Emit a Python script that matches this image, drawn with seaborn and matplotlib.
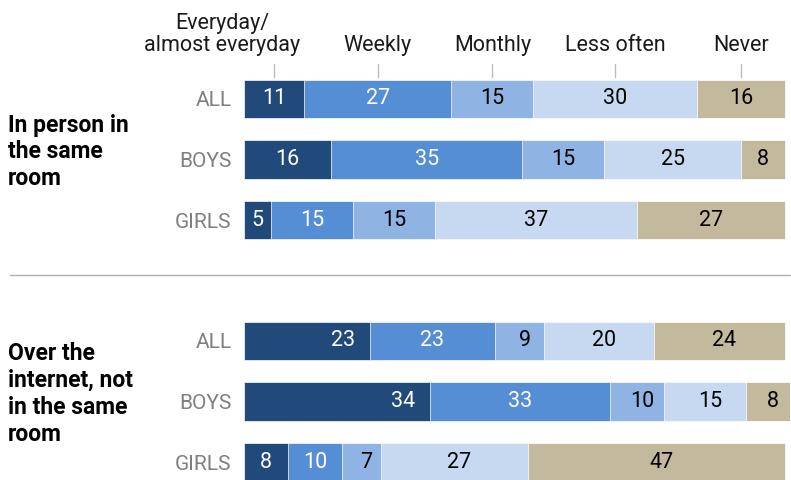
import pandas as pd
import numpy as np
import matplotlib.pyplot as plt
import seaborn as sns
from matplotlib.lines import Line2D

# data
categories = ['Everyday/\nalmost everyday', 'Weekly', 'Monthly', 'Less often', 'Never']
groups = ['ALL', 'BOYS', 'GIRLS']

inperson_all = [11, 27, 15, 30, 16]
inperson_boys = [16, 35, 15, 25, 8]
inperson_girls = [5, 15, 15, 37, 27]

online_all = [23, 23, 9, 20, 24]
online_boys = [34, 33, 10, 15, 8]
online_girls = [8, 10, 7, 27, 47]

panel_titles = ['In person in\nthe same\nroom', 'Over the\ninternet, not\nin the same\nroom']

colors = ['#214a7b', '#568ed5', '#8fb4e3', '#c6d9f0', '#c3b99c']
text_colors = ['white', 'white', 'black', 'black', 'black']

sns.set_theme(style='white')
plt.rcParams['font.family'] = ['Roboto', 'DejaVu Sans']


def make_long(rows):
    recs = []
    for g, vals in zip(groups, rows):
        cum = np.cumsum(vals)
        for i, c in enumerate(categories):
            recs.append({'group': g, 'cat': c, 'value': vals[i],
                         'cum': cum[i], 'start': cum[i] - vals[i]})
    return pd.DataFrame(recs)


panels = [make_long([inperson_all, inperson_boys, inperson_girls]),
          make_long([online_all, online_boys, online_girls])]

fig = plt.figure(figsize=(7.91, 4.80), dpi=100)

# axes placement (px -> fig)
W, H = 791, 480
left = 244 / W
width = 546 / W
row_px = 60.5
ax_h = 3.2 * row_px / H
ax_tops = [99 - 0.6 * row_px, 341 - 0.6 * row_px]

axes = []
for p, df in enumerate(panels):
    bottom = 1 - (ax_tops[p] + 3.2 * row_px) / H
    ax = fig.add_axes([left, bottom, width, ax_h])
    axes.append(ax)
    # stacked bars: draw cumulative totals from last to first
    for i in reversed(range(len(categories))):
        sub = df[df['cat'] == categories[i]]
        sns.barplot(data=sub, x='cum', y='group', order=groups, orient='h',
                    color=colors[i], width=0.63, edgecolor='white',
                    linewidth=0.5, saturation=1, ax=ax)
    # value labels
    for _, r in df.iterrows():
        gi = groups.index(r['group'])
        ci = categories.index(r['cat'])
        x = r['start'] + r['value'] / 2
        ha = 'center'
        if p == 1 and ci == 0 and r['value'] > 20:
            x = r['cum'] - 2.6
            ha = 'right'
        elif p == 1 and ci > 1:
            x += 0.9
        ax.text(x, gi, str(r['value']), ha=ha, va='center', fontsize=15.5,
                color=text_colors[ci])
    ax.set_xlim(0, 100)
    ax.set_ylim(2.6, -0.6)
    ax.set_xlabel('')
    ax.set_ylabel('')
    ax.set_xticks([])
    ax.tick_params(axis='y', length=0, pad=9, labelsize=15, labelcolor='#7f7f7f')
    sns.despine(ax=ax, left=True, bottom=True)
    ax.patch.set_alpha(0)

    fig.text(8 / W, 1 - [152, 394][p] / H, panel_titles[p], ha='left',
             va='center', fontsize=16.5, fontweight='bold', color='black',
             linespacing=1.22)

# column headers with small ticks above the first row
ax = axes[0]
first = panels[0][panels[0]['group'] == 'ALL']
for _, r in first.iterrows():
    cx = r['start'] + r['value'] / 2
    ax.plot([cx, cx], [-0.58, -0.36], color='#bdbdbd', lw=1, clip_on=False)
    if r['cat'] == categories[0]:
        ax.text(10.3, -0.71, r['cat'], ha='right', va='bottom', fontsize=15.5,
                multialignment='center', color='#1a1a1a', linespacing=1.05)
    else:
        ax.text(cx, -0.71, r['cat'], ha='center', va='bottom', fontsize=15.5,
                color='#1a1a1a')

# separator line between panels
fig.add_artist(Line2D([10 / W, 790 / W], [1 - 275 / H, 1 - 275 / H],
                      color='#b0b0b0', lw=1))

plt.savefig('out.png', dpi=100)
